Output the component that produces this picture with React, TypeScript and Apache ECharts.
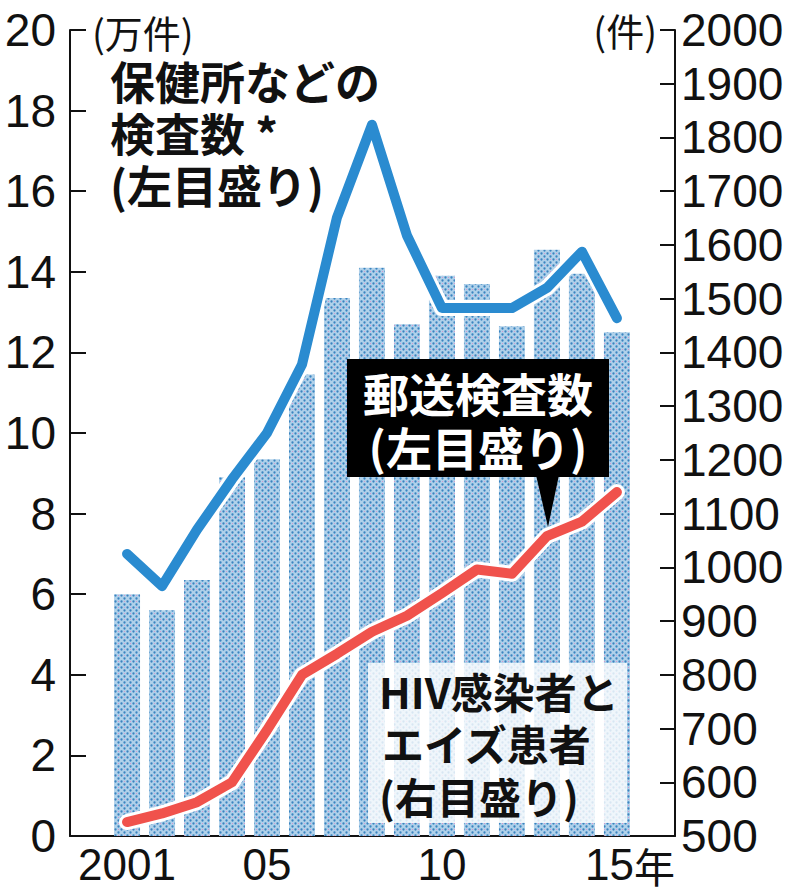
import React, { useEffect, useRef } from "react";
import * as echarts from "echarts";

const years = [2001, 2002, 2003, 2004, 2005, 2006, 2007, 2008, 2009, 2010, 2011, 2012, 2013, 2014, 2015];
const mailTests = [6.0, 5.6, 6.35, 8.9, 9.35, 11.45, 13.35, 14.1, 12.7, 13.9, 13.7, 12.65, 14.55, 13.95, 12.5];
const centerTests = [7.0, 6.2, 7.6, 8.85, 10.0, 11.7, 15.35, 17.65, 14.9, 13.1, 13.1, 13.1, 13.6, 14.5, 12.85];
const patients = [526, 542, 563, 600, 697, 800, 839, 880, 910, 952, 996, 988, 1058, 1085, 1140];
const xLabelYears = [2001, 2005, 2010, 2015];
const xLabelTexts = ["2001", "05", "10", "15"];

const NUM_FONT = "'Liberation Sans Narrow', 'Liberation Sans', sans-serif";
const JP_FONT = "'Noto Sans CJK JP', sans-serif";

function makePattern(): HTMLCanvasElement {
  const c = document.createElement("canvas");
  c.width = 6;
  c.height = 6;
  const ctx = c.getContext("2d")!;
  ctx.fillStyle = "#b0d1ea";
  ctx.fillRect(0, 0, 6, 6);
  ctx.fillStyle = "#3a84bf";
  ctx.beginPath();
  ctx.arc(1.5, 1.5, 1.15, 0, Math.PI * 2);
  ctx.fill();
  ctx.beginPath();
  ctx.arc(4.5, 4.5, 1.15, 0, Math.PI * 2);
  ctx.fill();
  ctx.fillStyle = "#d894cc";
  ctx.fillRect(4, 1, 1, 1);
  return c;
}

export default function App() {
  const ref = useRef<HTMLDivElement>(null);
  useEffect(() => {
    document.body.style.margin = "0";
    if (!ref.current) return;
    const chart = echarts.init(ref.current, null, { renderer: "svg" });
    const pattern = makePattern();
    const barData = years.map((y, i) => [y, mailTests[i]]);
    const blueData = years.map((y, i) => [y, centerTests[i]]);
    const redData = years.map((y, i) => [y, patients[i]]);
    const jpText = (text: string, left: number, top: number, size: number, weight: string) => ({
      type: "text",
      left,
      top,
      z: 10,
      style: { text, fontFamily: JP_FONT, fontSize: size, fontWeight: weight, fill: "#111" },
    });
    const option: any = {
      animation: false,
      grid: { left: 70, right: 110, top: 30, bottom: 56, containLabel: false, outerBoundsMode: "none" },
      xAxis: {
        type: "value",
        min: 1999.37,
        max: 2016.66,
        splitLine: { show: false },
        axisLine: { show: true, lineStyle: { color: "#111", width: 2 } },
        axisTick: { show: false },
        axisLabel: {
          customValues: xLabelYears,
          margin: 5,
          color: "#111",
          fontFamily: NUM_FONT,
          fontSize: 44,
          lineHeight: 46,
          formatter: (v: number) => {
            const i = xLabelYears.indexOf(Math.round(v));
            if (i < 0) return "";
            if (i === xLabelYears.length - 1) return "{n|" + xLabelTexts[i] + "}{k|年}";
            return xLabelTexts[i];
          },
          rich: {
            n: { fontFamily: NUM_FONT, fontSize: 44, lineHeight: 46, color: "#111", padding: [0, 0, 0, 26] },
            k: { fontFamily: JP_FONT, fontSize: 41, lineHeight: 46, color: "#111", padding: [2, 0, 0, 0] },
          },
        },
      },
      yAxis: [
        {
          type: "value",
          min: 0,
          max: 20,
          interval: 2,
          position: "left",
          splitLine: { show: false },
          axisLine: { show: true, lineStyle: { color: "#111", width: 2 } },
          axisTick: { show: true, inside: true, length: 16, lineStyle: { color: "#111", width: 2 } },
          axisLabel: { color: "#111", fontFamily: NUM_FONT, fontSize: 46, margin: 14, formatter: (v: number) => String(v) },
        },
        {
          type: "value",
          min: 500,
          max: 2000,
          interval: 100,
          position: "right",
          splitLine: { show: false },
          axisLine: { show: true, lineStyle: { color: "#111", width: 2 } },
          axisTick: { show: true, inside: true, length: 15, lineStyle: { color: "#111", width: 2 } },
          axisLabel: { color: "#111", fontFamily: NUM_FONT, fontSize: 46, margin: 6, formatter: (v: number) => String(v) },
        },
      ],
      series: [
        {
          type: "bar",
          name: "郵送検査数",
          data: barData,
          barWidth: 26,
          yAxisIndex: 0,
          itemStyle: { color: { image: pattern, repeat: "repeat" } },
          z: 1,
        },
        {
          type: "line",
          data: blueData,
          yAxisIndex: 0,
          symbol: "none",
          lineStyle: { color: "#ffffff", width: 16, cap: "round", join: "round" },
          z: 3,
        },
        {
          type: "line",
          name: "保健所などの検査数",
          data: blueData,
          yAxisIndex: 0,
          symbol: "none",
          lineStyle: { color: "#2a8bd0", width: 10, cap: "round", join: "round" },
          z: 4,
        },
        {
          type: "line",
          data: redData,
          yAxisIndex: 1,
          symbol: "none",
          lineStyle: { color: "#ffffff", width: 16, cap: "round", join: "round" },
          z: 3,
        },
        {
          type: "line",
          name: "HIV感染者とエイズ患者",
          data: redData,
          yAxisIndex: 1,
          symbol: "none",
          lineStyle: { color: "#f0524c", width: 10, cap: "round", join: "round" },
          z: 4,
        },
      ],
      graphic: [
        jpText("(万件)", 92, 12, 38, "normal"),
        {
          type: "text",
          right: 128,
          top: 10,
          style: { text: "(件)", fontFamily: JP_FONT, fontSize: 38, fill: "#111" },
        },
        jpText("保健所などの", 110, 58, 45, "bold"),
        jpText("検査数 *", 110, 110, 45, "bold"),
        jpText("(左目盛り)", 110, 162, 45, "bold"),
        {
          type: "group",
          z: 20,
          children: [
            {
              type: "rect",
              shape: { x: 347, y: 359, width: 262, height: 118 },
              style: { fill: "#000" },
              z: 20,
            },
            {
              type: "polygon",
              shape: { points: [[536, 475], [559, 475], [548, 527]] },
              style: { fill: "#000" },
              z: 20,
            },
            {
              type: "text",
              x: 478,
              y: 392,
              z: 21,
              style: {
                text: "郵送検査数",
                fontFamily: JP_FONT,
                fontSize: 46,
                fontWeight: "bold",
                fill: "#fff",
                align: "center",
                verticalAlign: "middle",
              },
            },
            {
              type: "text",
              x: 478,
              y: 446,
              z: 21,
              style: {
                text: "(左目盛り)",
                fontFamily: JP_FONT,
                fontSize: 46,
                fontWeight: "bold",
                fill: "#fff",
                align: "center",
                verticalAlign: "middle",
              },
            },
          ],
        },
        {
          type: "group",
          z: 20,
          children: [
            {
              type: "rect",
              shape: { x: 368, y: 663, width: 259, height: 160 },
              style: { fill: "rgba(255,255,255,0.8)" },
              z: 20,
            },
            {
              type: "text",
              x: 379,
              y: 690,
              z: 21,
              style: { text: "HIV感染者と", fontFamily: JP_FONT, fontSize: 42, fontWeight: "bold", fill: "#111", verticalAlign: "middle" },
            },
            {
              type: "text",
              x: 382,
              y: 742,
              z: 21,
              style: { text: "エイズ患者", fontFamily: JP_FONT, fontSize: 42, fontWeight: "bold", fill: "#111", verticalAlign: "middle" },
            },
            {
              type: "text",
              x: 379,
              y: 795,
              z: 21,
              style: { text: "(右目盛り)", fontFamily: JP_FONT, fontSize: 42, fontWeight: "bold", fill: "#111", verticalAlign: "middle" },
            },
          ],
        },
      ],
    };
    chart.setOption(option);
    return () => chart.dispose();
  }, []);
  return <div ref={ref} style={{ width: 785, height: 892 }} />;
}
